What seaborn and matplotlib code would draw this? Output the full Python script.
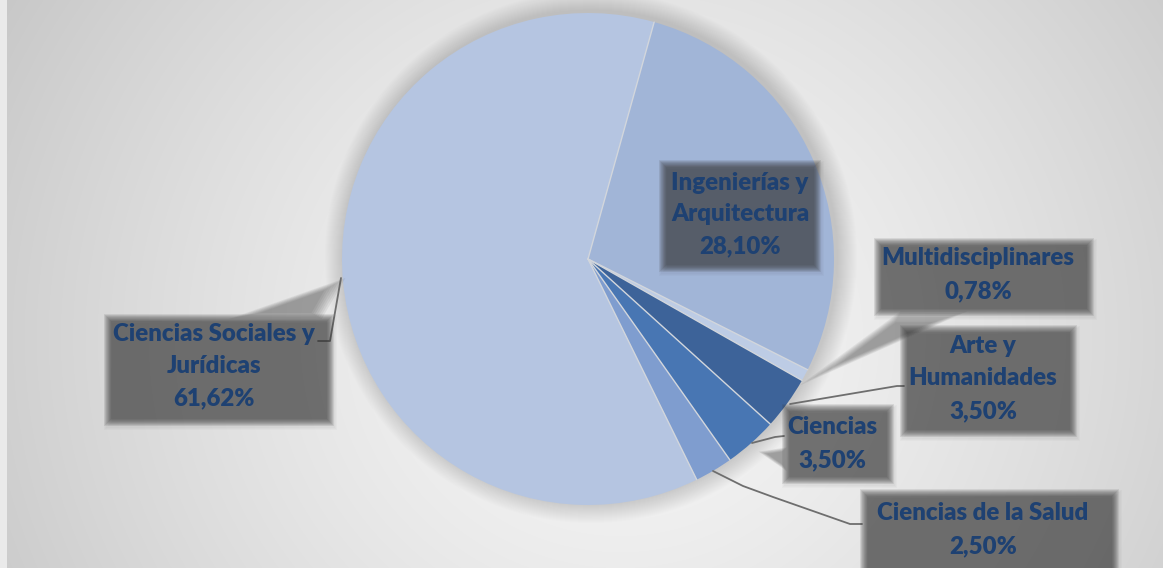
import numpy as np
import matplotlib
matplotlib.use("Agg")
import matplotlib.pyplot as plt
import seaborn as sns
from matplotlib.patches import Rectangle, Circle, Polygon

# Data
categorias = ["Ingenierías y\nArquitectura", "Multidisciplinares", "Arte y\nHumanidades",
              "Ciencias", "Ciencias de la Salud", "Ciencias Sociales y\nJurídicas"]
porcentajes = [28.10, 0.78, 3.50, 3.50, 2.50, 61.62]
colores = ["#A1B5D7", "#BDCCE5", "#3D6399", "#4876B3", "#7F9DCF", "#B5C5E1"]

sns.set_theme(style="white")
plt.rcParams["font.family"] = ["Lato", "DejaVu Sans"]

W, H = 1163, 568
fig = plt.figure(figsize=(W / 100, H / 100), dpi=100)
ax = fig.add_axes([0, 0, 1, 1])


def Y(y):
    # pixel row (from top) -> data y
    return H - y


# Background: light strip at the left, radial gray gradient
fig.patch.set_facecolor("#EAEAEA")
xx, yy = np.meshgrid(np.arange(7, W), np.arange(H))
d = np.hypot((xx - 620) / 1.0, (yy - 230) / 0.95)
val = 247 - 46 * (d / 700) ** 1.35
val = np.clip(val, 190, 250) / 255
ax.imshow(np.dstack([val, val, val]), extent=(7, W, H, 0), origin="upper",
          zorder=0, aspect="auto")

cx, cy, r = 588, 259, 246
start = 74.4

# Soft shadow around the pie
for i in range(20):
    ax.add_patch(Circle((cx + 3, Y(cy - 2)), r + 20 - i, color="#808080",
                        alpha=0.014, lw=0, zorder=1))

wedges, _ = ax.pie(porcentajes, colors=colores, startangle=start, counterclock=False,
                   center=(cx, Y(cy)), radius=r,
                   wedgeprops=dict(linewidth=0, zorder=2))

# thin light separators between slices
bordes = start - 3.6 * np.cumsum([0] + porcentajes[:-1])
for a in bordes:
    t = np.deg2rad(a)
    ax.plot([cx, cx + r * np.cos(t)], [Y(cy), Y(cy) + r * np.sin(t)],
            color="#D2D6DC", lw=1.0, zorder=2.5)


def leader(pts):
    ax.plot([p[0] for p in pts], [Y(p[1]) for p in pts], color="#6E6E6E",
            lw=1.3, zorder=3, solid_capstyle="round")


def pointer(pts):
    # blurred callout tail: shrink polygon toward its centroid in layers
    P = np.array([(p[0], Y(p[1])) for p in pts], dtype=float)
    c = P.mean(axis=0)
    for s in np.linspace(1.08, 0.6, 7):
        ax.add_patch(Polygon(c + (P - c) * s, closed=True, facecolor="#3C3C3C",
                             alpha=0.08, lw=0, zorder=3))


def box(x0, y0, x1, y1):
    # blurred semi-transparent gray box with faint drop shadow
    for k in range(8):
        e = 5 - k * 1.2
        ax.add_patch(Rectangle((x0 - e + 2, Y(y1 + e + 3)), x1 - x0 + 2 * e,
                               y1 - y0 + 2 * e, facecolor="#2A2A2A", alpha=0.025,
                               lw=0, zorder=3))
    for k in range(8):
        e = 3.5 - k
        ax.add_patch(Rectangle((x0 - e, Y(y1 + e)), x1 - x0 + 2 * e,
                               y1 - y0 + 2 * e, facecolor="#383838", alpha=0.104,
                               lw=0, zorder=4))


def label(xc, ys, lines):
    for yl, t in zip(ys, lines):
        ax.text(xc, Y(yl), t, ha="center", va="center", fontsize=17.3,
                fontweight="heavy", color="#1E4172", zorder=6)


# Leader lines and pointers
leader([(713, 471), (743, 486), (773, 497), (850, 524), (862, 524)])
leader([(752, 443), (775, 437), (784, 436)])
leader([(790, 404), (897, 386), (904, 386)])
leader([(341, 278), (330, 341), (318, 341)])
pointer([(900, 313), (962, 313), (806, 382)])
pointer([(234, 318), (320, 318), (342, 280)])
pointer([(786, 448), (786, 470), (760, 452)])

# Label boxes
box(662, 163, 817, 268)
label(740, [183, 214, 246], ["Ingenierías y", "Arquitectura", "28,10%"])

box(877, 241, 1090, 312)
label(978, [258, 291], ["Multidisciplinares", "0,78%"])

box(903, 328, 1073, 433)
label(983, [346, 378, 411], ["Arte y", "Humanidades", "3,50%"])

box(785, 407, 890, 480)
label(832, [427, 460], ["Ciencias", "3,50%"])

box(863, 492, 1115, 578)
label(983, [513, 546], ["Ciencias de la Salud", "2,50%"])

box(107, 317, 330, 422)
label(214, [334, 366, 398], ["Ciencias Sociales y", "Jurídicas", "61,62%"])

ax.set_xlim(0, W)
ax.set_ylim(0, H)
ax.set_aspect("auto")
ax.axis("off")

fig.savefig("out.png", dpi=100)
